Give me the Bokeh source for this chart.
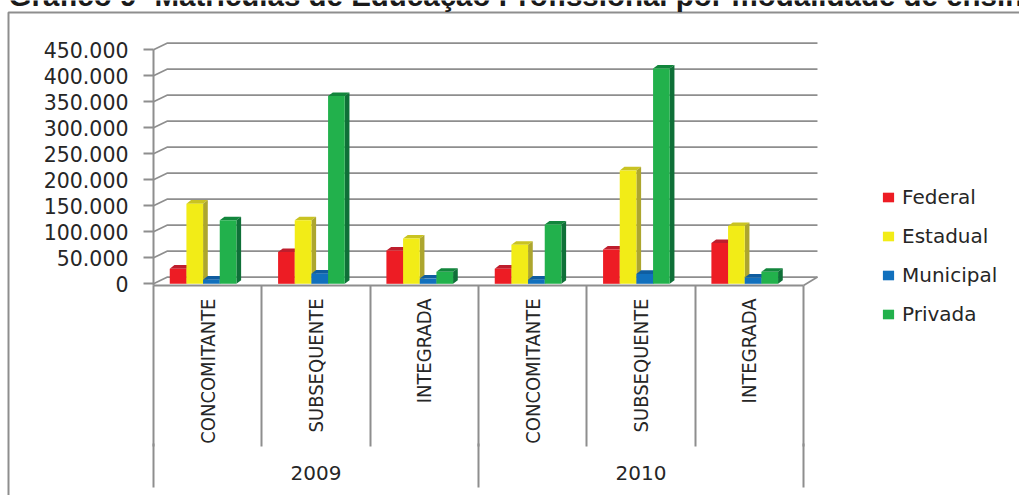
from math import pi

from bokeh.embed import file_html
from bokeh.models import (BoxAnnotation, FixedTicker, Label, Legend, LegendItem,
                          LinearAxis, Range1d)
from bokeh.plotting import figure
from bokeh.resources import INLINE

TITLE = "Gráfico 9 -Matrículas de Educação Profissional por modalidade de ensino"
MODALIDADES = ["CONCOMITANTE", "SUBSEQUENTE", "INTEGRADA"] * 2
ANOS = ["2009", "2010"]
SERIES = ["Federal", "Estadual", "Municipal", "Privada"]
FEDERAL = [29000, 61000, 64000, 29000, 66000, 78500]
ESTADUAL = [154000, 122000, 87000, 75000, 218000, 111000]
MUNICIPAL = [8000, 19500, 10000, 8000, 19000, 12000]
PRIVADA = [122000, 361000, 23000, 114000, 414000, 23000]
VALORES = [FEDERAL, ESTADUAL, MUNICIPAL, PRIVADA]
Y_TICKS = list(range(0, 450001, 50000))

FRENTE = ["#ED1C24", "#F2EC17", "#1170BD", "#22B14C"]
TOPO = ["#BE1E2D", "#C9C322", "#0F5DA0", "#12863C"]
LADO = ["#B5161C", "#ADA62E", "#0C4F8A", "#0F7038"]
CINZA = "#8E8E8E"
TEXTO = "#262626"

# The plotting frame fills the page; these fix its pixel scale
W, H = 1019, 495
PX_X = 108.33
PX_Y = 0.52 / 1000
ORIGIN_X, ZERO_PX = 153, 283.3
FLOOR_PX, YEAR_PX = 285, 443

BAR_W = 1 / 6.5
BAR_OFFSET = 0.15
BAR_DX, BAR_DY = 4.7 / PX_X, 3.6 / PX_Y
WALL_DX, WALL_DY = 14 / PX_X, 6.7 / PX_Y


def y_at(px):
    """Axis value sitting at a given pixel row."""
    return (ZERO_PX - px) / PX_Y


p = figure(
    width=W, height=H, output_backend="svg", toolbar_location=None,
    x_range=Range1d(-ORIGIN_X / PX_X, (W - ORIGIN_X) / PX_X),
    y_range=Range1d(y_at(H), y_at(0)),
    x_axis_type=None, y_axis_type=None,
    min_border_left=0, min_border_right=0, min_border_top=0, min_border_bottom=0,
)
p.outline_line_color = None
p.grid.visible = False
p.background_fill_color = "white"

# Back wall and side wall of the 3D box
n = len(MODALIDADES)
p.multi_line(
    [[0, WALL_DX, n + WALL_DX] for _ in Y_TICKS],
    [[t, t + WALL_DY, t + WALL_DY] for t in Y_TICKS],
    line_color=CINZA, line_width=1.7,
)
p.line([n, n + WALL_DX], [y_at(FLOOR_PX), WALL_DY], line_color=CINZA, line_width=1.7)

# Bars: front face, then top and side faces, series by series
items = []
for s, (nome, vals) in enumerate(zip(SERIES, VALORES)):
    left = [i + BAR_OFFSET + s * BAR_W for i in range(n)]
    right = [x + BAR_W for x in left]
    p.patches(
        [[l, l + BAR_DX, r + BAR_DX, r] for l, r in zip(left, right)],
        [[v, v + BAR_DY, v + BAR_DY, v] for v in vals],
        fill_color=TOPO[s], line_color=None,
    )
    p.patches(
        [[r, r + BAR_DX, r + BAR_DX, r] for r in right],
        [[0, BAR_DY, v + BAR_DY, v] for v in vals],
        fill_color=LADO[s], line_color=None,
    )
    front = p.quad(left=left, right=right, bottom=0, top=vals,
                   fill_color=FRENTE[s], line_color=None)
    items.append(LegendItem(label=nome, renderers=[front]))

# Value axis
yaxis = LinearAxis(
    fixed_location=0,
    ticker=FixedTicker(ticks=Y_TICKS),
    major_label_overrides={t: f"{t:,}".replace(",", ".") for t in Y_TICKS},
    bounds=(y_at(FLOOR_PX), 450000),
    axis_line_color=CINZA, axis_line_width=2,
    major_tick_line_color=CINZA, major_tick_line_width=2,
    major_tick_out=10, major_tick_in=0, minor_tick_out=0, minor_tick_in=0,
    major_label_standoff=15,
    major_label_text_font="DejaVu Sans", major_label_text_font_size="20.5px",
    major_label_text_color=TEXTO,
)
p.add_layout(yaxis, "left")

# Two-level category axis: modality labels, then years
xaxis = LinearAxis(
    fixed_location=y_at(FLOOR_PX),
    ticker=FixedTicker(ticks=[i + 0.5 for i in range(n)], minor_ticks=list(range(n + 1))),
    major_label_overrides={i + 0.5: m for i, m in enumerate(MODALIDADES)},
    major_label_orientation=pi / 2,
    bounds=(0, n),
    axis_line_color=CINZA, axis_line_width=2,
    major_tick_line_color=None, major_tick_out=0, major_tick_in=0,
    minor_tick_line_color=CINZA, minor_tick_line_width=2,
    minor_tick_out=161, minor_tick_in=0,
    major_label_standoff=-148,
    major_label_text_font="DejaVu Sans Condensed, Roboto", major_label_text_font_size="20px",
    major_label_text_color=TEXTO,
)
p.add_layout(xaxis, "below")

year_axis = LinearAxis(
    fixed_location=y_at(YEAR_PX),
    ticker=FixedTicker(ticks=[1.5, 4.5], minor_ticks=[0, 3, 6]),
    major_label_overrides={1.5: ANOS[0], 4.5: ANOS[1]},
    bounds=(0, n),
    axis_line_color=None,
    major_tick_line_color=None, major_tick_out=0, major_tick_in=0,
    minor_tick_line_color=CINZA, minor_tick_line_width=2,
    minor_tick_out=44, minor_tick_in=0,
    major_label_standoff=-22,
    major_label_text_font="DejaVu Sans", major_label_text_font_size="20px",
    major_label_text_color=TEXTO,
)
p.add_layout(year_axis, "below")

legend = Legend(
    items=items, location=(881, H - 326),
    padding=0, margin=0, spacing=15, border_line_color=None, background_fill_alpha=0,
    glyph_width=14, glyph_height=12, label_standoff=7, label_height=24,
    label_text_font="DejaVu Sans", label_text_font_size="20px", label_text_color=TEXTO,
)
p.add_layout(legend)

# Chart frame running off the page on the right and at the bottom
p.add_layout(BoxAnnotation(
    left=8, right=W + 30, top=H - 12, bottom=-30,
    left_units="screen", right_units="screen", top_units="screen", bottom_units="screen",
    fill_alpha=0, line_color=CINZA, line_alpha=1, line_width=2,
))

p.add_layout(Label(
    x=8, y=H + 5, x_units="screen", y_units="screen", text=TITLE,
    text_font="Liberation Sans", text_font_style="bold", text_font_size="29.5px",
    text_color="#1A1A1A", text_baseline="alphabetic",
))

open("out.html", "w").write(file_html(p, INLINE))
